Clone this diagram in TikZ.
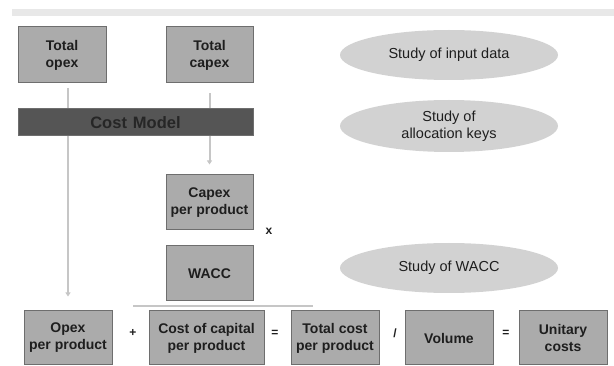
\documentclass[tikz,border=0pt]{standalone}
\usepackage{fontspec}
\setmainfont{Liberation Sans}
\usetikzlibrary{arrows.meta,shapes.geometric}
\definecolor{boxfill}{HTML}{ABABAB}
\definecolor{boxedge}{HTML}{6E6E6E}
\definecolor{ellfill}{HTML}{D2D2D2}
\definecolor{cmfill}{HTML}{555555}
\definecolor{cmtext}{HTML}{262626}
\definecolor{linecol}{HTML}{C6C6C6}
\definecolor{barcol}{HTML}{E8E8E8}
\definecolor{txt}{HTML}{1E1E1E}
\tikzset{
  boxnode/.style={draw=boxedge, line width=1pt, fill=boxfill, minimum width=88pt, minimum height=55pt,
    inner sep=0pt, align=center, font=\fontsize{14}{17}\selectfont\bfseries, text=txt},
  ellnode/.style={ellipse, fill=ellfill, minimum width=218pt, minimum height=50pt, inner sep=0pt,
    align=center, font=\fontsize{14.5}{17}\selectfont, text=txt},
  opnode/.style={inner sep=0pt, font=\fontsize{12}{14}\selectfont\bfseries, text=txt},
  conn/.style={draw=linecol, line width=2pt, -{Triangle[width=5pt,length=4pt]}},
}
\begin{document}
\begin{tikzpicture}[x=1pt,y=-1pt]
\useasboundingbox (0,0) rectangle (614,366);
\fill[barcol] (12,9) rectangle (614,16);
% top boxes
\node[boxnode, minimum height=56pt] (topex) at (62,55) {Total\\opex};
\node[boxnode, minimum width=87pt, minimum height=56pt] (tcapex) at (209.5,55) {Total\\capex};
% middle
\node[boxnode, minimum width=87pt] (capexpp) at (209.5,202.5) {Capex\\per product};
\node[boxnode, minimum width=87pt] (wacc) at (209.5,273.5) {WACC};
% bottom row
\node[boxnode, minimum height=54pt] (opexpp) at (68,338) {Opex\\per product};
\node[boxnode, minimum width=115pt, minimum height=54pt] (cocpp) at (206.5,338) {Cost of capital\\per product};
\node[boxnode, minimum height=54pt] (tcpp) at (335,338) {Total cost\\per product};
\node[boxnode, minimum height=54pt] (vol) at (449,338) {Volume};
\node[boxnode, minimum height=54pt] (unit) at (563,338) {Unitary\\costs};
% operators
\node[opnode] (plus) at (133,333) {+};
\node[opnode] (eq1) at (275,333) {=};
\node[opnode] (div) at (395,333) {/};
\node[opnode] (eq2) at (506,333) {=};
\node[opnode] (times) at (269,231) {x};
% fraction line
\coordinate (fl) at (133,306);
\coordinate (fr) at (313,306);
\draw[linecol, line width=2pt] (fl) -- (fr);
% connectors
\coordinate (oa) at (68,88);
\draw[conn, shorten >=14pt] (oa) -- (opexpp.north);
\draw[conn, shorten <=10pt, shorten >=10pt] (tcapex.south) -- (capexpp.north);
% cost model bar
\node[draw=boxedge, line width=1pt, fill=cmfill, minimum width=235pt, minimum height=27pt, inner sep=0pt,
  font=\fontsize{16.5}{18}\selectfont\bfseries, text=cmtext] (cm) at (135.5,122.5) {Cost\hspace{6pt}Model};
% ellipses
\node[ellnode] (e1) at (449,55) {Study of input data};
\node[ellnode, minimum height=52pt] (e2) at (449,126) {Study of\\allocation keys};
\node[ellnode] (e3) at (449,268) {Study of WACC};
\end{tikzpicture}
\end{document}
